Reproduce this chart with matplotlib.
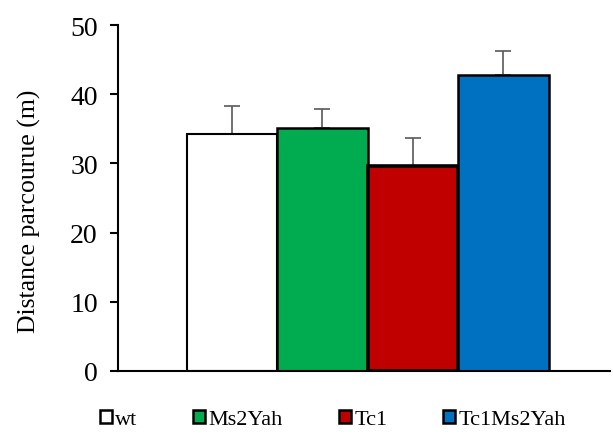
import matplotlib
matplotlib.use("Agg")
import matplotlib.pyplot as plt
from matplotlib.patches import Patch

groups = ["wt", "Ms2Yah", "Tc1", "Tc1Ms2Yah"]
means = [34.2, 35.1, 29.6, 42.8]
errors = [4.1, 2.7, 4.0, 3.5]
colors = ["#FFFFFF", "#00AC4F", "#C00000", "#0070C0"]
edge_widths = [1.5, 1.8, 2.6, 1.8]
yticks = [0, 10, 20, 30, 40, 50]

plt.rcParams["font.family"] = ["Liberation Serif", "DejaVu Serif"]

fig = plt.figure(figsize=(6.13, 4.35), dpi=100)
ax = fig.add_axes([118/613, 63/435, 492/613, 346/435])

xs = list(range(len(groups)))
for x, m, e, c, lw in zip(xs, means, errors, colors, edge_widths):
    ax.bar(x, m, width=1.0, color=c, edgecolor="black", linewidth=lw, zorder=2)
    ax.errorbar(x, m, yerr=[[0], [e]], fmt="none", ecolor="#595959",
                elinewidth=1.2, capsize=6, capthick=1.2, zorder=1)

ax.set_xlim(-1.26, 4.18)
ax.set_ylim(0, 50)
ax.set_yticks(yticks)
ax.set_xticks([])
ax.tick_params(axis="y", direction="out", length=5.5, width=1.5, labelsize=20, pad=9)
for s in ["top", "right"]:
    ax.spines[s].set_visible(False)
ax.spines["left"].set_linewidth(1.5)
ax.spines["bottom"].set_linewidth(1.5)
ax.set_ylabel("Distance parcourue (m)", fontsize=18.5, ha="center", va="center")
ax.yaxis.set_label_coords(-0.179, 0.465)

handles = [Patch(facecolor=c, edgecolor="black", linewidth=1.8) for c in colors]
fig.legend(handles, groups, loc="center", bbox_to_anchor=(0.543, 0.033), ncol=4,
           frameon=False, fontsize=16, handlelength=0.55, handleheight=0.55,
           handletextpad=0.15, columnspacing=2.5)

fig.savefig("out.png", dpi=100)
